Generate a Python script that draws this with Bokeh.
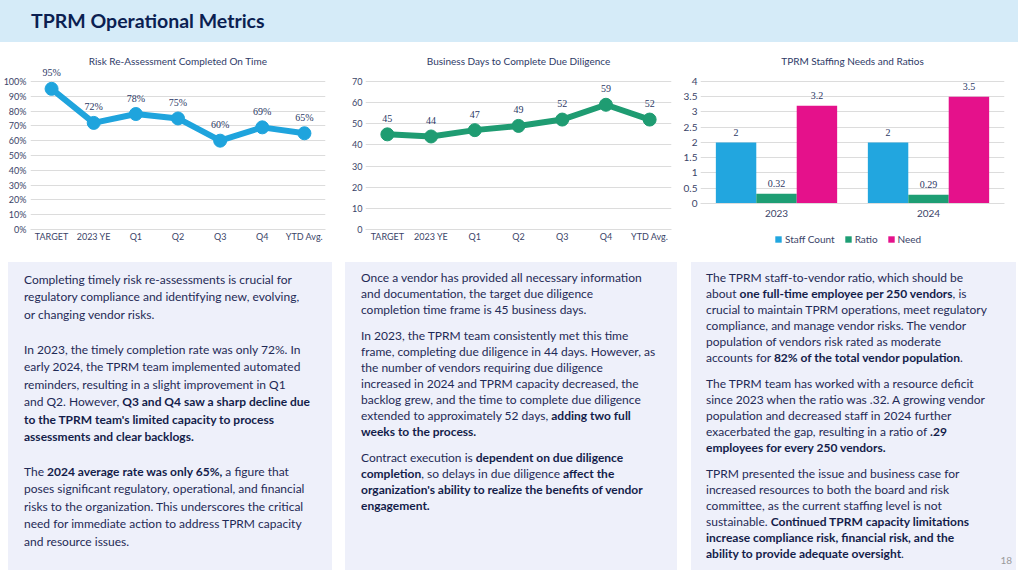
from bokeh.plotting import figure
from bokeh.models import (FactorRange, Range1d, ColumnDataSource, LabelSet,
                          FixedTicker, NumeralTickFormatter, Div, Spacer, Legend, LegendItem)
from bokeh.layouts import column, row
from bokeh.transform import dodge
from bokeh.embed import file_html
from bokeh.resources import INLINE

# ---------------- data ----------------
periods = ["TARGET", "2023 YE", "Q1", "Q2", "Q3", "Q4", "YTD Avg."]
reassess_pct = [0.95, 0.72, 0.78, 0.75, 0.60, 0.69, 0.65]
dd_days = [45, 44, 47, 49, 52, 59, 52]
years = ["2023", "2024"]
staff_count = [2, 2]
ratio = [0.32, 0.29]
need = [3.2, 3.5]

FONT = "Lato"
TICK_C = "#3a4468"
LBL_C = "#2b3764"
TITLE_C = "#2e3a67"
GRID_C = "#dcdcdc"


def base_fig(x_range, y_range, w, left, right, bottom, title, title_offset):
    p = figure(x_range=x_range, y_range=y_range, width=w, height=205,
               output_backend="svg", toolbar_location=None,
               min_border_left=left, min_border_right=right,
               min_border_top=21, min_border_bottom=bottom, title=title)
    p.margin = 0
    p.frame_align = False
    p.outline_line_color = None
    p.background_fill_color = "white"
    p.border_fill_color = "white"
    p.xgrid.grid_line_color = None
    p.ygrid.grid_line_color = GRID_C
    p.ygrid.grid_line_width = 1
    for ax in (p.xaxis, p.yaxis):
        ax.major_tick_line_color = None
        ax.minor_tick_line_color = None
        ax.major_tick_out = 0
        ax.major_tick_in = 0
        ax.minor_tick_out = 0
        ax.minor_tick_in = 0
        ax.major_label_text_font = FONT
        ax.major_label_text_color = TICK_C
        ax.major_label_standoff = 4
    p.xaxis.major_label_standoff = 1
    p.yaxis.axis_line_color = None
    p.xaxis.axis_line_color = GRID_C
    p.title.text_font = FONT
    p.title.text_font_size = "10px"
    p.title.text_font_style = "normal"
    p.title.text_color = TITLE_C
    p.title.align = "center"
    p.title.standoff = 0
    p.title.offset = title_offset
    return p


# ---------------- chart 1 ----------------
src1 = ColumnDataSource(dict(x=periods, y=reassess_pct,
                             lbl=[f"{round(v * 100)}%" for v in reassess_pct]))
p1 = base_fig(FactorRange(*periods, range_padding=0), Range1d(0, 1.101), 340, 30, 15, 21,
              "Risk Re-Assessment Completed On Time", -7)
p1.yaxis.ticker = FixedTicker(ticks=[i / 10 for i in range(11)])
p1.yaxis.formatter = NumeralTickFormatter(format="0%")
p1.yaxis.major_label_standoff = 4
p1.xaxis.major_label_text_font_size = "9px"
p1.yaxis.major_label_text_font_size = "9px"
c1 = "#1fa4dd"
p1.line("x", "y", source=src1, line_width=6, color=c1, line_join="round")
p1.scatter("x", "y", source=src1, size=13, color=c1)
p1.add_layout(LabelSet(x="x", y="y", text="lbl", source=src1, y_offset=16,
                       text_align="center", text_baseline="middle",
                       text_font=FONT, text_font_size="10px", text_color=LBL_C))

# ---------------- chart 2 ----------------
src2 = ColumnDataSource(dict(x=periods, y=dd_days, lbl=[str(v) for v in dd_days]))
p2 = base_fig(FactorRange(*periods, range_padding=0), Range1d(0, 77.1), 340, 25, 9, 21,
              "Business Days to Complete Due Diligence", -6)
p2.yaxis.ticker = FixedTicker(ticks=list(range(0, 71, 10)))
p2.yaxis.major_label_standoff = 3
p2.xaxis.major_label_text_font_size = "9px"
p2.yaxis.major_label_text_font_size = "9px"
c2 = "#1f9c72"
p2.line("x", "y", source=src2, line_width=6, color=c2, line_join="round")
p2.scatter("x", "y", source=src2, size=13, color=c2)
p2.add_layout(LabelSet(x="x", y="y", text="lbl", source=src2, y_offset=16,
                       text_align="center", text_baseline="middle",
                       text_font=FONT, text_font_size="10px", text_color=LBL_C))

# ---------------- chart 3 ----------------
src3 = ColumnDataSource(dict(year=years, staff=staff_count, ratio=ratio, need=need,
                             staff_l=[f"{v:g}" for v in staff_count],
                             ratio_l=[f"{v:g}" for v in ratio],
                             need_l=[f"{v:g}" for v in need]))
# y range extends below 0 to leave room (inside the frame) for the legend
p3 = base_fig(FactorRange(*years, range_padding=0), Range1d(-1.475, 4.49), 338, 20, 14, 2,
              "TPRM Staffing Needs and Ratios", -8)
p3.yaxis.ticker = FixedTicker(ticks=[i / 2 for i in range(9)])
p3.xaxis.fixed_location = 0
p3.xaxis.major_label_standoff = 7
p3.xaxis.major_label_text_font_size = "10px"
p3.yaxis.major_label_text_font_size = "10px"
p3.yaxis.major_label_standoff = 3
bw = 0.266
series = [("staff", "Staff Count", "#22a6df", -bw),
          ("ratio", "Ratio", "#1e9e74", 0.0),
          ("need", "Need", "#e5118b", bw)]
items = []
for col, name, colr, off in series:
    r = p3.vbar(x=dodge("year", off, range=p3.x_range), top=col, width=bw, source=src3,
                color=colr, line_color=None)
    items.append(LegendItem(label=name, renderers=[r]))
    p3.add_layout(LabelSet(x=dodge("year", off, range=p3.x_range), y=col, text=col + "_l",
                           source=src3, y_offset=10, text_align="center",
                           text_baseline="middle", text_font=FONT,
                           text_font_size="10px", text_color=LBL_C))
lg = Legend(items=items, orientation="horizontal", location=(74, 3),
            glyph_width=8, glyph_height=8, label_standoff=3, spacing=9,
            padding=0, margin=0, border_line_color=None, background_fill_alpha=0,
            label_text_font=FONT, label_text_font_size="10px",
            label_text_color=TICK_C, label_height=12)
p3.add_layout(lg, "center")

# ---------------- text ----------------
TXT_C = "#1f2a56"
B_C = "#141d4a"

title_html = ('<div style="width:1018px;height:42px;background:#d5ebf8;box-sizing:border-box;'
              'padding-left:31px;font-family:Lato;font-weight:bold;font-size:19.5px;'
              'line-height:42px;color:#0b1f52;white-space:nowrap;">TPRM Operational Metrics</div>')


def box(html, w, pad_top, pad_left, lh, extra=""):
    return ('<div style="position:relative;width:%dpx;height:308px;box-sizing:border-box;'
            'background:#eef0fa;padding:%dpx 0 0 %dpx;font-family:Lato;font-size:12px;'
            'line-height:%spx;color:%s;white-space:nowrap;overflow:hidden;">%s%s</div>'
            % (w, pad_top, pad_left, lh, TXT_C, html, extra))


def b(t):
    return '<b style="color:%s">%s</b>' % (B_C, t)


P = '<p style="margin:0 0 10.5px 0;">%s</p>'

t1 = ("Completing timely risk re-assessments is crucial for<br>"
      "regulatory compliance and identifying new, evolving,<br>"
      "or changing vendor risks.<br><br>"
      "In 2023, the timely completion rate was only 72%. In<br>"
      "early 2024, the TPRM team implemented automated<br>"
      "reminders, resulting in a slight improvement in Q1<br>"
      "and Q2. However, " + b("Q3 and Q4 saw a sharp decline due<br>"
                              "to the TPRM team's limited capacity to process<br>"
                              "assessments and clear backlogs.") + "<br><br>"
      "The " + b("2024 average rate was only 65%,") + " a figure that<br>"
      "poses significant regulatory, operational, and financial<br>"
      "risks to the organization. This underscores the critical<br>"
      "need for immediate action to address TPRM capacity<br>"
      "and resource issues.")

t2 = (P % ("Once a vendor has provided all necessary information<br>"
           "and documentation, the target due diligence<br>"
           "completion time frame is 45 business days.")
      + P % ("In 2023, the TPRM team consistently met this time<br>"
             "frame, completing due diligence in 44 days. However, as<br>"
             "the number of vendors requiring due diligence<br>"
             "increased in 2024 and TPRM capacity decreased, the<br>"
             "backlog grew, and the time to complete due diligence<br>"
             "extended to approximately 52 days, " + b("adding two full<br>weeks to the process."))
      + P % ("Contract execution is " + b("dependent on due diligence<br>completion")
             + ", so delays in due diligence " + b("affect the<br>"
                                                  "organization's ability to realize the benefits of vendor<br>"
                                                  "engagement.")))

t3 = (P % ("The TPRM staff-to-vendor ratio, which should be<br>"
           "about " + b("one full-time employee per 250 vendors") + ", is<br>"
           "crucial to maintain TPRM operations, meet regulatory<br>"
           "compliance, and manage vendor risks. The vendor<br>"
           "population of vendors risk rated as moderate<br>"
           "accounts for " + b("82% of the total vendor population") + ".")
      + P % ("The TPRM team has worked with a resource deficit<br>"
             "since 2023 when the ratio was .32. A growing vendor<br>"
             "population and decreased staff in 2024 further<br>"
             "exacerbated the gap, resulting in a ratio of " + b(".29<br>employees for every 250 vendors."))
      + P % ("TPRM presented the issue and business case for<br>"
             "increased resources to both the board and risk<br>"
             "committee, as the current staffing level is not<br>"
             "sustainable. " + b("Continued TPRM capacity limitations<br>"
                                 "increase compliance risk, financial risk, and the<br>"
                                 "ability to provide adequate oversight") + "."))

page_no = ('<span style="position:absolute;right:4px;bottom:4px;font-size:10px;'
           'line-height:12px;color:#9a9a9a;">18</span>')

title_div = Div(text=title_html, width=1018, height=42, margin=0)
d1 = Div(text=box(t1, 324, 9, 16, "17.45"), width=324, height=308, margin=0)
d2 = Div(text=box(t2, 332, 8, 16, "15.9"), width=332, height=308, margin=0)
d3 = Div(text=box(t3, 325, 8, 15, "15.9", page_no), width=325, height=308, margin=0)

layout = column(
    title_div,
    Spacer(width=1018, height=3, margin=0),
    row(p1, p2, p3, margin=0),
    Spacer(width=1018, height=12, margin=0),
    row(Spacer(width=8, height=308, margin=0), d1,
        Spacer(width=13, height=308, margin=0), d2,
        Spacer(width=14, height=308, margin=0), d3, margin=0),
    margin=0,
)

with open("out.html", "w") as f:
    f.write(file_html(layout, INLINE))
